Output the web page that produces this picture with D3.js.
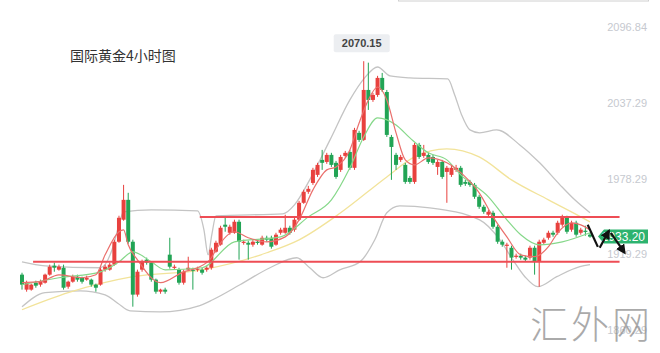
<!DOCTYPE html>
<html>
<head>
<meta charset="utf-8">
<script src="https://cdn.jsdelivr.net/npm/d3@7"></script>
<style>
body{margin:0;background:#fff}
svg{display:block;font-family:"Liberation Sans",Arial,sans-serif}
</style>
</head>
<body>
<div id="chart"></div>
<script>
// 4h candles, oldest first
var opens = [1903.5,1891.8,1891.8,1897.2,1895.7,1897.2,1903.5,1910.5,1907.4,1908.9,
    1894.1,1898.0,1901.9,1901.1,1899.6,1899.6,1895.7,1895.7,1907.4,1907.4,
    1911.3,1929.2,1946.4,1961.9,1929.2,1887.9,1907.4,1915.2,1912.9,1899.6,
    1890.2,1891.8,1919.1,1908.9,1907.4,1897.2,1907.4,1907.4,1907.4,1907.4,
    1907.4,1908.9,1921.4,1926.9,1942.5,1936.2,1936.2,1944.8,1928.4,1928.4,
    1926.9,1929.2,1926.9,1932.3,1932.3,1926.9,1936.2,1936.2,1940.1,1938.6,
    1946.4,1959.6,1968.2,1975.1,1981.4,1993.1,1991.5,1997.0,1990.8,1985.3,
    1996.2,1999.3,1986.9,2014.2,2008.7,2047.7,2039.9,2043.8,2057.1,2046.1,
    2011.0,1997.0,1993.1,1989.2,1979.0,1975.9,2004.8,1996.2,1997.0,1995.4,
    1987.6,1991.5,1983.7,1981.4,1985.3,1986.9,1975.9,1975.9,1973.6,1964.3,
    1956.5,1950.3,1951.8,1940.9,1929.2,1926.1,1924.5,1917.5,1918.3,1916.8,
    1916.8,1924.5,1913.6,1928.4,1932.3,1936.2,1936.2,1942.5,1947.9,1938.6,
    1944.0,1936.2,1937.8,1934.7]
var highs = [1905.0,1898.8,1896.5,1898.8,1899.6,1904.3,1911.3,1912.9,1911.3,1911.3,
    1898.8,1903.5,1903.5,1901.9,1902.7,1900.4,1896.5,1908.9,1911.3,1912.9,
    1930.8,1949.5,1973.6,1967.4,1930.8,1907.4,1915.2,1916.8,1913.6,1900.4,
    1892.5,1893.3,1932.3,1911.3,1908.9,1907.4,1917.5,1908.9,1909.7,1908.9,
    1910.5,1924.5,1930.0,1941.7,1948.7,1942.5,1946.4,1946.4,1930.8,1930.0,
    1930.8,1930.8,1933.9,1933.9,1933.9,1936.2,1940.1,1950.3,1941.7,1947.9,
    1961.1,1969.8,1972.8,1986.9,1990.8,2000.9,1998.6,1998.6,1992.3,1997.0,
    2000.1,2000.9,2018.1,2015.8,2070.15,2069.0,2045.4,2058.7,2061.0,2047.7,
    2012.6,1998.6,1997.0,1990.8,1980.6,2006.4,2006.4,2004.8,1998.6,1997.0,
    1993.1,1993.1,1988.4,1988.4,1989.2,1988.4,1977.5,1977.5,1975.1,1965.8,
    1958.0,1954.2,1953.4,1942.5,1930.8,1928.4,1926.1,1919.9,1919.9,1918.3,
    1926.1,1926.1,1930.8,1932.3,1937.8,1937.8,1945.6,1950.3,1949.5,1945.6,
    1945.6,1940.1,1941.7,1936.2]
var lows = [1891.8,1890.2,1891.0,1893.3,1894.1,1896.5,1902.7,1905.8,1906.6,1891.8,
    1892.5,1897.2,1898.0,1896.5,1898.8,1894.1,1890.2,1894.9,1905.8,1906.6,
    1910.5,1928.4,1945.6,1927.6,1878.5,1886.3,1905.8,1911.3,1898.0,1888.6,
    1888.6,1888.6,1908.2,1907.4,1895.7,1895.7,1906.6,1891.8,1905.8,1903.5,
    1905.8,1907.4,1920.6,1926.1,1937.0,1934.7,1935.4,1915.2,1926.9,1915.2,
    1925.3,1926.9,1926.1,1929.2,1923.8,1926.1,1934.7,1935.4,1934.7,1937.0,
    1945.6,1958.8,1966.6,1973.6,1979.8,1985.3,1990.0,1987.6,1978.3,1983.7,
    1994.7,1985.3,1985.3,2007.1,2007.9,2032.1,2038.4,2042.3,2046.1,2011.0,
    1977.5,1985.3,1991.5,1974.4,1974.4,1974.4,1993.9,1994.7,1990.0,1989.2,
    1981.4,1978.3,1959.6,1979.8,1983.7,1972.1,1972.8,1972.1,1962.7,1954.9,
    1951.0,1948.7,1939.3,1927.6,1925.3,1908.9,1907.4,1916.0,1915.2,1913.6,
    1915.2,1903.5,1894.1,1926.9,1930.8,1933.1,1934.7,1940.9,1935.4,1937.0,
    1933.1,1934.7,1933.9,1932.3]
var closes = [1895.7,1897.2,1895.7,1894.9,1898.0,1903.5,1909.7,1908.9,1909.7,1893.3,
    1898.0,1901.9,1899.6,1898.0,1901.1,1895.7,1893.3,1907.4,1909.7,1911.3,
    1929.2,1947.9,1961.9,1929.2,1887.9,1905.8,1913.6,1912.9,1899.6,1890.2,
    1891.8,1890.2,1909.7,1909.7,1897.2,1905.8,1908.9,1906.6,1908.2,1905.0,
    1908.9,1923.0,1928.4,1940.1,1940.9,1940.9,1944.8,1929.2,1929.2,1926.9,
    1929.2,1928.4,1932.3,1930.8,1925.3,1934.7,1938.6,1940.1,1936.2,1946.4,
    1959.6,1968.2,1970.5,1985.3,1989.2,1990.8,1997.0,1989.2,1979.8,1995.4,
    1998.6,1986.9,2016.5,2008.7,2047.7,2039.9,2043.8,2057.1,2047.7,2012.6,
    2003.2,1989.2,1995.4,1975.9,1975.9,2004.8,1995.4,1998.6,1991.5,1990.8,
    1991.5,1979.8,1986.9,1986.9,1986.9,1973.6,1974.4,1973.6,1964.3,1956.5,
    1952.6,1952.6,1940.9,1929.2,1926.9,1926.9,1916.8,1918.3,1916.8,1915.2,
    1924.5,1913.6,1929.2,1930.8,1936.2,1934.7,1944.0,1948.7,1937.0,1944.0,
    1934.7,1938.6,1937.0,1933.2]

// indicator lines: [candle index, price]
var maFast = [[0,1897.2],[4,1898.0],[8,1903.4],[13,1901.1],[16,1903.4],[18,1919.0],[21,1937.0],[22,1938.5],
    [23,1926.8],[25,1915.1],[30,1897.2],[35,1905.7],[38,1908.9],[41,1916.7],[42,1922.9],[46,1937.0],
    [49,1932.3],[53,1929.1],[57,1933.0],[60,1946.3],[63,1969.7],[66,1985.3],[68,1987.6],[71,2000.9],
    [73,2021.9],[75,2039.9],[77,2050.0],[79,2039.9],[81,2014.2],[83,1993.1],[85,1989.2],[88,1994.7],
    [92,1990.8],[96,1979.8],[99,1967.4],[102,1948.6],[105,1933.0],[108,1919.0],[111,1917.5],[114,1925.3],
    [116,1936.2],[119,1944.0],[121,1942.4],[123,1938.5]]
var maMid = [[0,1895.6],[8,1901.1],[17,1905.7],[21,1913.5],[24,1921.3],[28,1913.5],[31,1907.3],[39,1908.9],
    [46,1929.1],[56,1933.0],[62,1948.6],[67,1961.9],[71,1986.9],[74,2011.0],[77,2025.9],[81,2020.4],
    [84,2010.3],[88,1998.6],[92,1993.1],[95,1981.4],[101,1964.2],[105,1946.3],[108,1934.6],[112,1926.8],
    [117,1929.1],[123,1936.2]]
var maSlow = [[0,1876.1],[10,1889.4],[24,1901.9],[39,1907.3],[53,1920.6],[60,1930.7],[69,1951.8],[79,1979.8],
    [85,1995.4],[92,2001.7],[99,1995.4],[106,1977.5],[114,1961.9],[121,1948.6],[123,1944.7]]
var bandUp = [[0,1913.5],[5,1910.4],[17,1908.9],[19.5,1922.9],[21,1942.4],[22,1952.5],[28,1954.1],[38,1953.3],
    [39.4,1938.5],[40.3,1919.0],[41.1,1934.6],[42,1949.4],[56.5,1951.0],[59,1958.0],[62.3,1977.5],[66.7,2008.7],
    [71,2039.9],[74.2,2057.1],[77,2065.6],[79.7,2058.6],[84,2057.1],[92.2,2056.3],[93.7,2043.8],[95.2,2028.2],
    [97,2016.5],[99.1,2014.2],[102.8,2016.5],[107.8,2004.8],[112.1,1990.8],[116.5,1973.6],[119.7,1961.9],[123,1951.8]]
var bandLow = [[0,1878.4],[5,1889.4],[12.6,1890.9],[18,1887.8],[20.8,1881.0],[23.4,1875.2],[29.9,1874.4],[38.5,1879.4],
    [41.3,1883.9],[47.2,1895.6],[53.7,1908.9],[59.5,1916.7],[62.3,1908.9],[65.2,1901.1],[68.8,1907.3],[73.2,1913.5],
    [76.4,1930.7],[79,1951.8],[81.8,1957.2],[88.3,1955.7],[99.1,1946.3],[103.5,1930.7],[106.3,1915.1],[108.9,1901.9],
    [111.7,1894.1],[115.8,1901.9],[120.8,1909.7],[123,1911.3]]

// the two drawn levels
var levels = [1948.6, 1913.5]
var levelFrom = [38.5, 2.4]
var levelTo = [129.4, 129.4]

var ticks = [2096.84, 2037.29, 1978.29, 1919.29, 1860.29]
var peakText = "2070.15"
var title = "国际黄金4小时图"

// hand drawn arrows, [index, price]
var strokes = [
    [[122.5,1942.4],[124.7,1925.2]],
    [[125.1,1924.5],[127.1,1937.7]],
    [[127.5,1936.2],[130.5,1920.6]]
]

var w = 660
var h = 353
var red = "#e8413e"
var green = "#22a455"

var svg = d3.select("#chart").append("svg")
    .attr("width", w)
    .attr("height", h)

var x = d3.scaleLinear().domain([0, 123]).range([22, 590])
var y = d3.scaleLinear().domain([1860.29, 2096.84]).range([330, 27])

var candles = opens.map(function(o, i){
    return {i: i, o: o, h: highs[i], l: lows[i], c: closes[i]}
})

// box peeking in at top right
svg.append("rect")
    .attr("x", 398.5).attr("y", -10)
    .attr("width", 250).attr("height", 11)
    .attr("fill", "none").attr("stroke", "#d0d0d0")

svg.append("text")
    .attr("x", 70).attr("y", 61)
    .attr("font-family", "Noto Sans CJK SC")
    .attr("font-size", 14)
    .attr("fill", "#333")
    .text(title)

svg.selectAll(".tick")
    .data(ticks)
    .join("text")
    .attr("class", "tick")
    .attr("x", 647)
    .attr("y", function(d){ return y(d) + 4 })
    .attr("text-anchor", "end")
    .attr("font-size", 11)
    .attr("fill", "#c6c9cf")
    .text(function(d){ return d.toFixed(2) })

var line = d3.line()
    .x(function(d){ return x(d[0]) })
    .y(function(d){ return y(d[1]) })
    .curve(d3.curveMonotoneX)

svg.append("path").datum(bandUp).attr("d", line)
    .attr("fill", "none").attr("stroke", "#c4c4c4").attr("stroke-width", 1.3)
svg.append("path").datum(bandLow).attr("d", line)
    .attr("fill", "none").attr("stroke", "#c4c4c4").attr("stroke-width", 1.3)
svg.append("path").datum(maSlow).attr("d", line)
    .attr("fill", "none").attr("stroke", "#f2e39a").attr("stroke-width", 1.3)

// wicks
svg.selectAll(".wick")
    .data(candles)
    .join("line")
    .attr("class", "wick")
    .attr("x1", function(d){ return x(d.i) })
    .attr("x2", function(d){ return x(d.i) })
    .attr("y1", function(d){ return y(d.h) })
    .attr("y2", function(d){ return y(d.l) })
    .attr("stroke", function(d){ return d.c >= d.o ? red : green })
    .attr("stroke-width", 1)

svg.selectAll(".body")
    .data(candles)
    .join("rect")
    .attr("class", "body")
    .attr("x", function(d){ return x(d.i) - 2 })
    .attr("width", 4)
    .attr("y", function(d){ return y(Math.max(d.o, d.c)) })
    .attr("height", function(d){ return Math.max(1.2, Math.abs(y(d.o) - y(d.c))) })
    .attr("fill", function(d){ return d.c >= d.o ? red : green })

svg.append("path").datum(maMid).attr("d", line)
    .attr("fill", "none").attr("stroke", "#86d88a").attr("stroke-width", 1.2)
svg.append("path").datum(maFast).attr("d", line)
    .attr("fill", "none").attr("stroke", "#ea6f6c").attr("stroke-width", 1.2)

svg.selectAll(".level")
    .data(levels)
    .join("line")
    .attr("class", "level")
    .attr("x1", function(d, i){ return x(levelFrom[i]) })
    .attr("x2", function(d, i){ return x(levelTo[i]) })
    .attr("y1", function(d){ return y(d) })
    .attr("y2", function(d){ return y(d) })
    .attr("stroke", "#ee4d55")
    .attr("stroke-width", 2)

// peak label
var peak = d3.maxIndex(highs)
var px = x(peak) - 2
var py = y(highs[peak]) - 18
svg.append("rect")
    .attr("x", px - 28).attr("y", py - 9)
    .attr("width", 56).attr("height", 18)
    .attr("rx", 2)
    .attr("fill", "#eceef1")
svg.append("text")
    .attr("x", px).attr("y", py + 4)
    .attr("text-anchor", "middle")
    .attr("font-size", 11)
    .attr("font-weight", "bold")
    .attr("fill", "#444")
    .text(peakText)

// last price tag
var last = closes[closes.length - 1]
var ty = y(last)
svg.append("path")
    .attr("d", "M598," + ty + "L604," + (ty - 7) + "H648V" + (ty + 7) + "H604Z")
    .attr("fill", "#2db36f")
svg.append("text")
    .attr("x", 645).attr("y", ty + 4)
    .attr("text-anchor", "end")
    .attr("font-size", 12)
    .attr("fill", "#fff")
    .text(last.toFixed(2))

svg.append("defs").append("marker")
    .attr("id", "head")
    .attr("viewBox", "0 0 10 10")
    .attr("refX", 8).attr("refY", 5)
    .attr("markerWidth", 4.5).attr("markerHeight", 4.5)
    .attr("orient", "auto")
    .append("path").attr("d", "M0,0L10,5L0,10Z").attr("fill", "#111")

svg.selectAll(".stroke")
    .data(strokes)
    .join("path")
    .attr("class", "stroke")
    .attr("d", d3.line().x(function(d){ return x(d[0]) }).y(function(d){ return y(d[1]) }))
    .attr("fill", "none")
    .attr("stroke", "#111")
    .attr("stroke-width", 2.2)
    .attr("marker-end", function(d, i){ return i > 0 ? "url(#head)" : null })

// watermark
svg.append("text")
    .attr("x", 530).attr("y", 338)
    .attr("font-family", "Noto Sans CJK SC")
    .attr("font-weight", 300)
    .attr("font-size", 38)
    .attr("letter-spacing", 3)
    .attr("fill", "#8e8e8e")
    .attr("opacity", 0.75)
    .text("汇外网")
</script>
</body>
</html>
